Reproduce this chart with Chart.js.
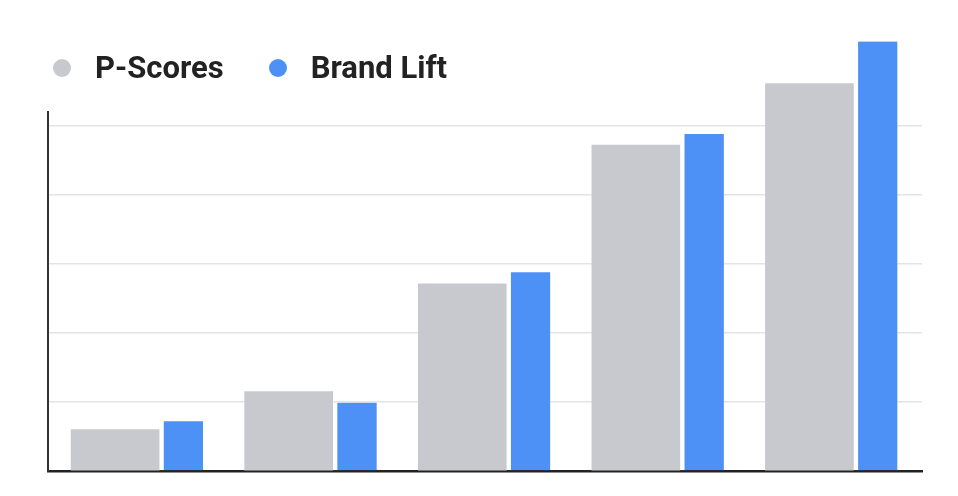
<!DOCTYPE html>
<html>
<head>
<meta charset="utf-8">
<script src="https://cdn.jsdelivr.net/npm/chart.js@4"></script>
<style>
  html, body { margin: 0; padding: 0; background: #fff; }
  #wrap { position: relative; width: 958px; height: 496px; }
  #legend {
    position: absolute; left: 53px; top: 48px; display: flex; align-items: center;
    font-family: Roboto, "Noto Sans", sans-serif; font-weight: 700; font-size: 31px;
    line-height: 40px; color: #222;
  }
  .item { display: flex; align-items: center; margin-right: 45px; }
  .dot { width: 18px; height: 18px; border-radius: 50%; margin-right: 24px; }
</style>
</head>
<body>
<div id="wrap">
  <canvas id="chart" width="958" height="496"></canvas>
  <div id="legend"></div>
</div>
<script>
const categories = ["Group 1", "Group 2", "Group 3", "Group 4", "Group 5"];
const seriesNames = ["P-Scores", "Brand Lift"];
const pScores = [0.60, 1.15, 2.71, 4.72, 5.61];
const brandLift = [0.72, 0.99, 2.88, 4.88, 6.22];
const yTicks = [0, 1, 2, 3, 4, 5];

const GRAY = "#c8c9cf";
const BLUE = "#4e91f6";

const toPoints = vals => vals.map((v, i) => ({ x: i, y: v }));

const chart = new Chart(document.getElementById("chart"), {
  type: "bar",
  data: {
    datasets: [
      {
        label: seriesNames[0],
        data: toPoints(pScores),
        backgroundColor: GRAY,
        barThickness: 88,
        borderWidth: 0,
        clip: false
      },
      {
        label: seriesNames[1],
        data: toPoints(brandLift),
        backgroundColor: BLUE,
        // white left edge makes the small gap next to the grey bar
        barThickness: 44,
        borderWidth: { left: 5, top: 0, right: 0, bottom: 0 },
        borderColor: "#fff",
        borderSkipped: false,
        clip: false
      }
    ]
  },
  options: {
    responsive: false,
    animation: false,
    layout: { padding: { left: 48, right: 36, top: 112, bottom: 25 } },
    plugins: {
      legend: { display: false },
      tooltip: {
        callbacks: { title: items => categories[items[0].parsed.x] }
      }
    },
    scales: {
      x: {
        type: "linear",
        offset: false,
        min: -0.64,
        max: 4.395,
        grid: { display: false, drawTicks: false },
        border: { display: true, color: "#222", width: 2.5 },
        ticks: { display: false }
      },
      y: {
        min: 0,
        max: 5.2,
        afterBuildTicks: scale => { scale.ticks = yTicks.map(v => ({ value: v })); },
        grid: {
          drawTicks: false,
          lineWidth: 1.5,
          color: ctx => (ctx.tick && ctx.tick.value > 0 ? "#e4e4e4" : "rgba(0,0,0,0)")
        },
        border: { display: true, color: "#333", width: 2 },
        ticks: { display: false }
      }
    }
  }
});

// legend drawn as html from the datasets
const legendEl = document.getElementById("legend");
chart.data.datasets.forEach(ds => {
  const item = document.createElement("div");
  item.className = "item";
  const dot = document.createElement("span");
  dot.className = "dot";
  dot.style.background = ds.backgroundColor;
  const txt = document.createElement("span");
  txt.textContent = ds.label;
  item.appendChild(dot);
  item.appendChild(txt);
  legendEl.appendChild(item);
});
</script>
</body>
</html>
